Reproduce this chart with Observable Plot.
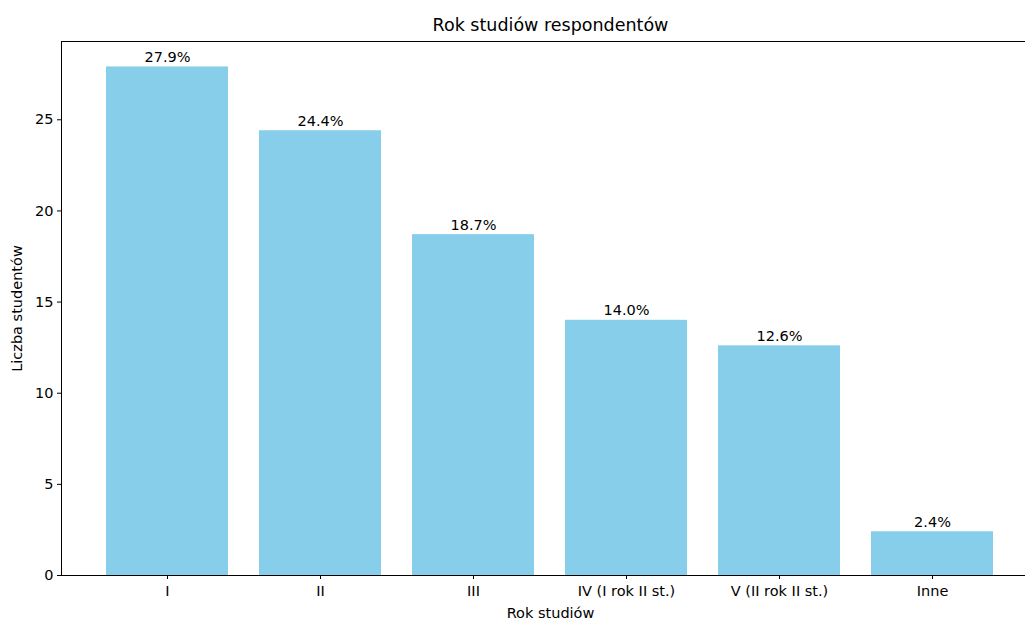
<!DOCTYPE html>
<html>
<head>
<meta charset="utf-8">
<script src="https://cdn.jsdelivr.net/npm/d3@7"></script>
<script src="https://cdn.jsdelivr.net/npm/@observablehq/plot@0.6"></script>
<style>
  html, body { margin: 0; padding: 0; background: #fff; }
  svg { display: block; }
</style>
</head>
<body>
<div id="chart"></div>
<script>
const categories = ["I", "II", "III", "IV (I rok II st.)", "V (II rok II st.)", "Inne"];
const values = [27.9, 24.4, 18.7, 14.0, 12.6, 2.4];
const yTicks = [0, 5, 10, 15, 20, 25];
const title = "Rok studiów respondentów";
const xLabel = "Rok studiów";
const yLabel = "Liczba studentów";

const data = categories.map((c, i) => ({ cat: c, value: values[i], label: values[i].toFixed(1) + "%" }));

const fs = 14.5;
const chart = Plot.plot({
  width: 1025,
  height: 619,
  marginLeft: 61,
  marginRight: -14,
  marginTop: 41,
  marginBottom: 44,
  style: { fontFamily: "DejaVu Sans", fontSize: fs + "px", color: "#000", background: "#fff" },
  x: { domain: categories, paddingInner: 0.2, paddingOuter: 0.29, label: null },
  y: { domain: [0, 27.9 * 1.05], label: null },
  marks: [
    Plot.barY(data, { x: "cat", y: "value", fill: "#87CEEB" }),
    Plot.text(data, { x: "cat", y: "value", text: "label", lineAnchor: "bottom", dy: -5, fill: "#000", fontSize: fs }),
    Plot.frame({ stroke: "#000", strokeWidth: 1 }),
    Plot.axisX({ tickSize: 4, tickPadding: 6, fontSize: fs, label: xLabel, labelAnchor: "center", labelArrow: "none", labelOffset: 42 }),
    Plot.axisY({ ticks: yTicks, tickSize: 4, tickPadding: 4, fontSize: fs, label: yLabel, labelAnchor: "center", labelArrow: "none", labelOffset: 50 }),
    Plot.text([title], { frameAnchor: "top", dy: -16, fontSize: 17.5, fill: "#000", lineAnchor: "middle" })
  ]
});
document.getElementById("chart").appendChild(chart);
</script>
</body>
</html>
